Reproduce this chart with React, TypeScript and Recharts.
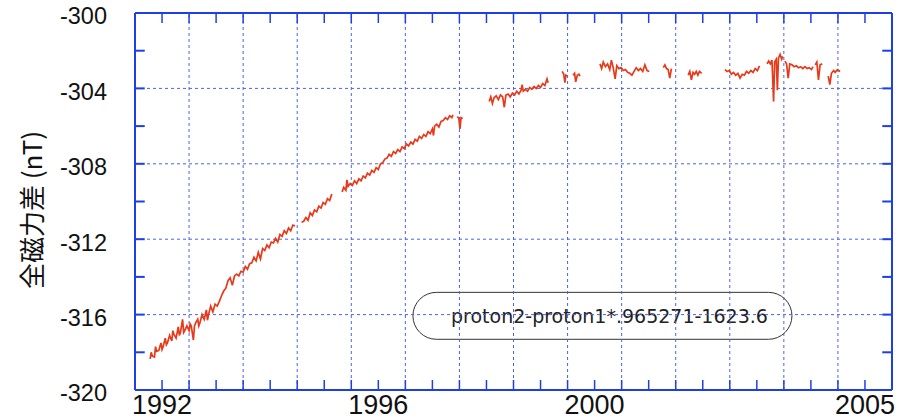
import React from 'react';
import { LineChart, Line, XAxis, YAxis, ReferenceLine, ReferenceArea } from 'recharts';

const AXIS_BLUE = '#1f3fe6';
const GRID_BLUE = '#4a62ea';
const LINE_RED = '#e8391a';

// tick labels
const xLabelYears = [1992, 1996, 2000, 2005];
const yLabelValues = [-320, -316, -312, -308, -304, -300];
// grid positions
const xGridYears = [1992.5, 1993.5, 1994.5, 1995.5, 1996.5, 1997.5, 1998.5, 1999.5, 2000.5, 2001.5, 2002.5, 2003.5, 2004.5];
const yGridValues = [-316, -312, -308, -304];
// small tick marks
const xTickYears = [1992, 1992.5, 1993, 1993.5, 1994, 1994.5, 1995, 1995.5, 1996, 1996.5, 1997, 1997.5, 1998, 1998.5, 1999, 1999.5, 2000, 2000.5, 2001, 2001.5, 2002, 2002.5, 2003, 2003.5, 2004, 2004.5, 2005];
const yTickValues = [-318, -316, -314, -312, -310, -308, -306, -304, -302];

const formulaText = 'proton2-proton1*.965271-1623.6';

// series: [year, total-force difference (nT)]
const seg1: [number, number][] = [
  [1991.78, -318.35], [1991.8, -318.0], [1991.82, -318.2], [1991.86, -318.25], [1991.88, -317.7], [1991.9, -317.95], [1991.94, -317.9],
  [1991.98, -317.5], [1992.0, -317.85], [1992.02, -317.7], [1992.06, -317.25], [1992.08, -317.6], [1992.1, -317.5], [1992.14, -317.1],
  [1992.18, -317.4], [1992.2, -316.85], [1992.22, -317.05], [1992.26, -317.25], [1992.3, -316.65], [1992.32, -317.1], [1992.34, -316.95],
  [1992.38, -316.25], [1992.4, -316.95], [1992.42, -316.85], [1992.46, -316.6], [1992.5, -316.85], [1992.52, -316.5], [1992.54, -316.6],
  [1992.58, -317.35], [1992.6, -316.6], [1992.62, -316.45], [1992.66, -316.25], [1992.68, -316.6], [1992.7, -316.45], [1992.74, -316.0],
  [1992.78, -316.25], [1992.82, -315.75], [1992.84, -316.3], [1992.86, -316.0], [1992.9, -315.55], [1992.94, -315.85],
  [1992.98, -315.45], [1993.02, -315.55], [1993.06, -315.3], [1993.1, -315.0], [1993.14, -314.75],
  [1993.18, -314.6], [1993.22, -314.2], [1993.26, -314.05], [1993.3, -314.45], [1993.34, -313.95],
  [1993.38, -313.85], [1993.42, -313.95], [1993.46, -313.7], [1993.5, -313.75], [1993.54, -313.45],
  [1993.58, -313.6], [1993.62, -313.3], [1993.66, -313.25], [1993.7, -312.95], [1993.74, -313.15],
  [1993.78, -312.7], [1993.82, -313.05], [1993.86, -312.5], [1993.9, -312.6], [1993.94, -312.3],
  [1993.98, -312.45], [1994.02, -312.15], [1994.06, -312.2], [1994.1, -311.95], [1994.14, -312.15],
  [1994.18, -311.75], [1994.22, -311.85], [1994.26, -311.55], [1994.3, -311.7], [1994.34, -311.4],
  [1994.38, -311.55], [1994.42, -311.25], [1994.46, -311.3],
];
const seg2: [number, number][] = [
  [1994.58, -311.1], [1994.62, -311.05], [1994.66, -310.85], [1994.7, -311.0], [1994.74, -310.6],
  [1994.78, -310.75], [1994.82, -310.45], [1994.86, -310.55], [1994.9, -310.25], [1994.94, -310.35],
  [1994.98, -310.05], [1995.02, -310.15], [1995.06, -309.85], [1995.1, -309.95], [1995.14, -309.6],
];
const seg3: [number, number][] = [
  [1995.33, -309.5], [1995.36, -309.25], [1995.4, -309.4], [1995.42, -308.85], [1995.44, -309.2], [1995.48, -309.05],
  [1995.52, -309.15], [1995.56, -308.9], [1995.6, -309.05], [1995.64, -308.8], [1995.68, -308.9],
  [1995.72, -308.65], [1995.76, -308.75], [1995.8, -308.5], [1995.84, -308.6], [1995.88, -308.35],
  [1995.92, -308.45], [1995.96, -308.2], [1996.0, -308.3], [1996.04, -308.0], [1996.08, -307.95],
  [1996.12, -307.75], [1996.16, -307.7], [1996.2, -307.5], [1996.24, -307.6], [1996.28, -307.35],
  [1996.32, -307.45], [1996.36, -307.25], [1996.4, -307.35], [1996.44, -307.1], [1996.48, -307.2],
  [1996.52, -306.95], [1996.56, -307.05], [1996.6, -306.85], [1996.64, -306.95], [1996.68, -306.7],
  [1996.72, -306.8], [1996.76, -306.55], [1996.8, -306.65], [1996.84, -306.45], [1996.88, -306.55],
  [1996.92, -306.3], [1996.96, -306.4], [1997.0, -306.15], [1997.02, -306.5], [1997.04, -306.0], [1997.08, -305.9],
  [1997.12, -306.05], [1997.16, -305.75], [1997.2, -305.7], [1997.24, -305.55], [1997.28, -305.65],
  [1997.32, -305.45], [1997.36, -305.55], [1997.38, -305.4],
];
const seg4: [number, number][] = [
  [1997.46, -305.5], [1997.49, -305.6], [1997.51, -306.15], [1997.53, -305.55], [1997.56, -305.6],
];
const seg5: [number, number][] = [
  [1998.05, -304.7], [1998.08, -304.45], [1998.11, -304.8], [1998.14, -304.5], [1998.18, -304.4],
  [1998.22, -304.6], [1998.26, -304.35], [1998.3, -304.45], [1998.33, -305.0], [1998.36, -304.35],
  [1998.4, -304.3], [1998.44, -304.45], [1998.48, -304.25], [1998.52, -304.35], [1998.56, -304.15],
  [1998.6, -304.3], [1998.64, -304.1], [1998.66, -303.8], [1998.68, -304.15], [1998.72, -304.05], [1998.76, -304.15],
  [1998.8, -303.95], [1998.84, -304.05], [1998.88, -303.9], [1998.92, -304.0], [1998.96, -303.85],
  [1999.0, -303.95], [1999.04, -303.75], [1999.08, -303.85], [1999.12, -303.5], [1999.14, -303.7],
];
const seg6: [number, number][] = [
  [1999.4, -303.1], [1999.43, -303.25], [1999.45, -303.7], [1999.47, -303.3], [1999.49, -303.35],
];
const seg7: [number, number][] = [
  [1999.6, -303.3], [1999.63, -303.2], [1999.65, -303.65], [1999.68, -303.3], [1999.71, -303.25], [1999.73, -303.35],
];
const seg8: [number, number][] = [
  [2000.1, -302.7], [2000.13, -302.95], [2000.16, -302.6], [2000.2, -302.85], [2000.24, -302.7],
  [2000.28, -303.0], [2000.31, -302.5], [2000.34, -302.85], [2000.38, -303.5], [2000.41, -302.8],
  [2000.45, -302.95], [2000.49, -302.9], [2000.53, -303.05], [2000.57, -303.0], [2000.61, -303.15],
  [2000.65, -303.2], [2000.69, -303.3], [2000.73, -303.1], [2000.77, -302.9], [2000.81, -303.05],
  [2000.85, -302.95], [2000.89, -303.1], [2000.93, -302.75], [2000.97, -303.05], [2001.01, -303.1],
];
const seg9: [number, number][] = [
  [2001.27, -302.9], [2001.3, -302.75], [2001.33, -302.95], [2001.36, -303.0], [2001.39, -303.45], [2001.42, -302.95],
];
const seg10: [number, number][] = [
  [2001.73, -303.3], [2001.76, -303.1], [2001.79, -303.55], [2001.82, -303.15], [2001.85, -303.25],
  [2001.88, -303.1], [2001.91, -303.3], [2001.94, -303.1], [2001.98, -303.2],
];
const seg11: [number, number][] = [
  [2002.41, -303.0], [2002.45, -303.1], [2002.49, -303.05], [2002.53, -303.25], [2002.57, -303.15],
  [2002.61, -303.3], [2002.65, -303.2], [2002.69, -303.45], [2002.73, -303.25], [2002.77, -303.3],
  [2002.81, -303.1], [2002.85, -303.2], [2002.89, -303.05], [2002.93, -303.15], [2002.97, -302.95],
  [2003.01, -303.05], [2003.05, -302.8],
];
const seg12: [number, number][] = [
  [2003.19, -302.7], [2003.22, -302.55], [2003.25, -302.7], [2003.28, -302.5], [2003.31, -304.7],
  [2003.33, -302.6], [2003.36, -302.45], [2003.38, -304.1], [2003.4, -302.4], [2003.43, -302.2],
  [2003.46, -302.45], [2003.48, -302.3],
];
const seg13: [number, number][] = [
  [2003.52, -302.55], [2003.55, -302.7], [2003.58, -303.45], [2003.61, -302.7], [2003.65, -302.75],
  [2003.69, -302.85], [2003.73, -302.8], [2003.77, -302.9], [2003.81, -302.85], [2003.85, -302.95],
  [2003.89, -302.85], [2003.93, -302.95], [2003.97, -302.9], [2004.01, -303.0], [2004.04, -302.85],
];
const seg14: [number, number][] = [
  [2004.08, -302.75], [2004.11, -302.6], [2004.14, -303.55], [2004.17, -302.75], [2004.21, -302.7],
];
const seg15: [number, number][] = [
  [2004.32, -303.35], [2004.35, -303.8], [2004.38, -303.2], [2004.42, -303.05], [2004.45, -303.15],
  [2004.49, -303.0], [2004.54, -303.1],
];

const segments = [seg1, seg2, seg3, seg4, seg5, seg6, seg7, seg8, seg9, seg10, seg11, seg12, seg13, seg14, seg15];

type Row = { year: number; diff: number | null };
const data: Row[] = [];
segments.forEach((seg, i) => {
  if (i > 0) {
    const prev = segments[i - 1];
    data.push({ year: (prev[prev.length - 1][0] + seg[0][0]) / 2, diff: null });
  }
  seg.forEach(([year, diff]) => data.push({ year, diff }));
});

const X_MIN = 1991.5;
const X_MAX = 2005.5;
const Y_MIN = -320;
const Y_MAX = -300;
const X_TICK_LEN = 0.53; // in nT units
const Y_TICK_LEN = 0.18; // in years

const YTick = (props: any) => {
  const { x, y, payload } = props;
  return (
    <text x={x} y={y + 3} dy="0.355em" textAnchor="end" fontSize={23.5} fill="#111" fontFamily="'Liberation Sans', Arial, sans-serif">
      {payload.value}
    </text>
  );
};

const XTick = (props: any) => {
  const { x, y, payload } = props;
  return (
    <text x={x} y={y} dy="0.71em" textAnchor="middle" fontSize={27} fill="#111" fontFamily="'Liberation Sans', Arial, sans-serif">
      {payload.value}
    </text>
  );
};

const FormulaBox = (props: any) => {
  const { x, y, width, height } = props;
  return (
    <g>
      <rect x={x} y={y} width={width} height={height} rx={height / 2} ry={height / 2} fill="#fff" stroke="#333" strokeWidth={1} />
      <text x={x + width / 2 + 7} y={y + height / 2} dy="0.36em" textAnchor="middle" fontSize={19} fill="#222" fontFamily="'DejaVu Sans', sans-serif">
        {formulaText}
      </text>
    </g>
  );
};

export default function App() {
  return (
    <div style={{ position: 'relative', width: 921, height: 420 }}>
      <style>{`body{margin:0;}`}</style>
      <LineChart width={921} height={420} data={data} margin={{ top: 13, right: 29, bottom: 0, left: 0 }}>
        <XAxis
          dataKey="year"
          type="number"
          domain={[X_MIN, X_MAX]}
          ticks={xLabelYears}
          allowDataOverflow
          height={30}
          tickLine={false}
          tickSize={0}
          tickMargin={5}
          axisLine={{ stroke: AXIS_BLUE, strokeWidth: 2 }}
          tick={<XTick />}
          interval={0}
        />
        <YAxis
          type="number"
          domain={[Y_MIN, Y_MAX]}
          ticks={yLabelValues}
          allowDataOverflow
          width={135}
          tickLine={false}
          tickSize={0}
          tickMargin={28}
          axisLine={{ stroke: AXIS_BLUE, strokeWidth: 2 }}
          tick={<YTick />}
          interval={0}
        />
        {xGridYears.map((t) => (
          <ReferenceLine key={'gx' + t} x={t} stroke={GRID_BLUE} strokeDasharray="3 3" strokeWidth={1} />
        ))}
        {yGridValues.map((v) => (
          <ReferenceLine key={'gy' + v} y={v} stroke={GRID_BLUE} strokeDasharray="3 3" strokeWidth={1} />
        ))}
        <ReferenceLine y={Y_MAX} stroke={AXIS_BLUE} strokeWidth={2} />
        <ReferenceLine x={X_MAX} stroke={AXIS_BLUE} strokeWidth={2} />
        {xTickYears.map((t) => (
          <ReferenceLine key={'tb' + t} segment={[{ x: t, y: Y_MIN }, { x: t, y: Y_MIN + X_TICK_LEN }]} stroke={AXIS_BLUE} strokeWidth={1.5} />
        ))}
        {xTickYears.map((t) => (
          <ReferenceLine key={'tt' + t} segment={[{ x: t, y: Y_MAX }, { x: t, y: Y_MAX - X_TICK_LEN }]} stroke={AXIS_BLUE} strokeWidth={1.5} />
        ))}
        {yTickValues.map((v) => (
          <ReferenceLine key={'tl' + v} segment={[{ x: X_MIN, y: v }, { x: X_MIN + Y_TICK_LEN, y: v }]} stroke={AXIS_BLUE} strokeWidth={2} />
        ))}
        {yTickValues.map((v) => (
          <ReferenceLine key={'tr' + v} segment={[{ x: X_MAX, y: v }, { x: X_MAX - Y_TICK_LEN, y: v }]} stroke={AXIS_BLUE} strokeWidth={2} />
        ))}
        <ReferenceArea x1={1996.64} x2={2003.65} y1={-317.31} y2={-314.82} shape={<FormulaBox />} />
        <Line dataKey="diff" type="linear" stroke={LINE_RED} strokeWidth={1.7} dot={false} connectNulls={false} isAnimationActive={false} />
      </LineChart>
      <svg style={{ position: 'absolute', left: 0, top: 0 }} width={60} height={420}>
        <text transform="translate(30,210) rotate(-90)" textAnchor="middle" dominantBaseline="central" fontSize={26} fill="#111" fontFamily="'Noto Sans CJK JP', sans-serif">
          全磁力差 (nT)
        </text>
      </svg>
    </div>
  );
}
